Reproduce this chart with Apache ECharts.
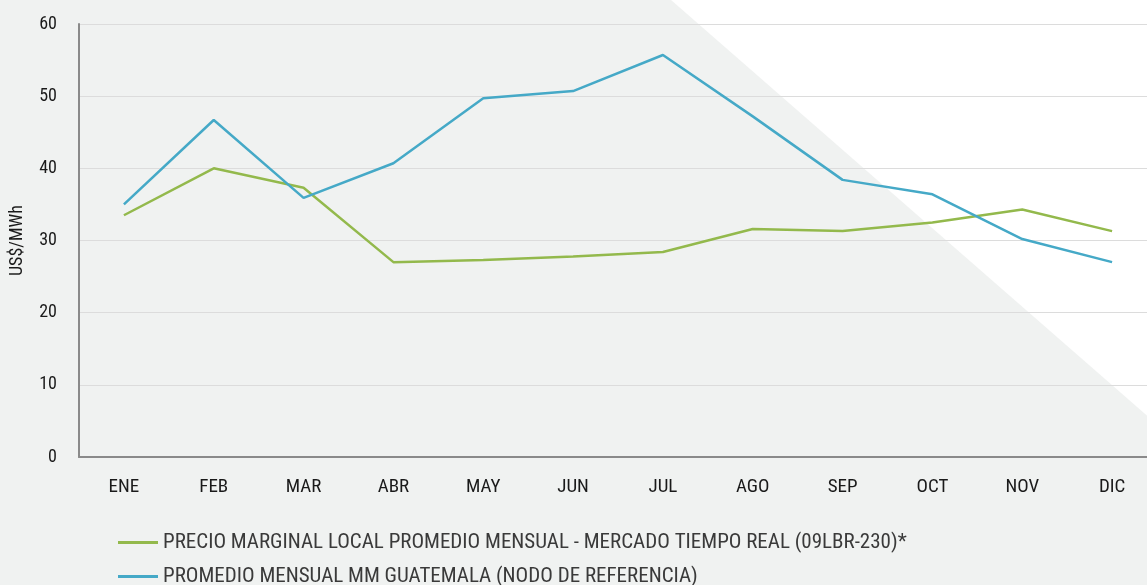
<!DOCTYPE html>
<html>
<head>
<meta charset="utf-8">
<script src="https://cdn.jsdelivr.net/npm/echarts@6/dist/echarts.min.js"></script>
<style>
  html, body { margin: 0; padding: 0; background: #f0f2f1; overflow: hidden; }
  #chart { width: 1160px; height: 585px; }
</style>
</head>
<body>
<div id="chart"></div>
<script>
// Months of the year
const months = ['ENE', 'FEB', 'MAR', 'ABR', 'MAY', 'JUN', 'JUL', 'AGO', 'SEP', 'OCT', 'NOV', 'DIC'];

// Monthly average local marginal price, real-time market (US$/MWh)
const pmlTiempoReal = [33.5, 40.0, 37.3, 27.0, 27.3, 27.8, 28.4, 31.6, 31.3, 32.5, 34.3, 31.3];

// Monthly average Guatemala MM, reference node (US$/MWh)
const mmGuatemala = [35.0, 46.7, 35.9, 40.7, 49.7, 50.7, 55.7, 47.2, 38.4, 36.4, 30.2, 27.0];

const seriesNames = [
  'PRECIO MARGINAL LOCAL PROMEDIO MENSUAL - MERCADO TIEMPO REAL (09LBR-230)*',
  'PROMEDIO MENSUAL MM GUATEMALA (NODO DE REFERENCIA)'
];

const FONT = "'Roboto Condensed', 'Liberation Sans Narrow', Roboto, sans-serif";
const GREEN = '#93b94c';
const BLUE = '#45a9c7';

const legendBase = {
  left: 113,
  itemWidth: 40,
  itemHeight: 3,
  icon: 'rect',
  textStyle: { fontFamily: FONT, fontSize: 21, color: '#3a3a3a' }
};

// The plot runs slightly past the visible right edge, so the canvas is a bit wider than the page
const chart = echarts.init(document.getElementById('chart'), null, { renderer: 'canvas' });

chart.setOption({
  backgroundColor: '#f0f2f1',
  animation: false,
  textStyle: { fontFamily: FONT },
  graphic: [
    {
      type: 'polygon',
      z: -100,
      silent: true,
      shape: { points: [[671, 0], [1160, 0], [1160, 427]] },
      style: { fill: '#ffffff' }
    }
  ],
  grid: { left: 77, right: 3, top: 24, bottom: 128, containLabel: false },
  legend: [
    Object.assign({}, legendBase, { top: 527, data: [seriesNames[0]] }),
    Object.assign({}, legendBase, { top: 561, data: [seriesNames[1]] })
  ],
  xAxis: {
    type: 'category',
    data: months,
    boundaryGap: true,
    axisLine: { lineStyle: { color: '#8a8a8a', width: 2 } },
    axisTick: { show: false },
    axisLabel: { color: '#1a1a1a', fontSize: 19, fontFamily: FONT, margin: 21 }
  },
  yAxis: {
    type: 'value',
    min: 0,
    max: 60,
    interval: 10,
    name: 'US$/MWh',
    nameLocation: 'middle',
    nameGap: 53,
    nameTextStyle: { color: '#1a1a1a', fontSize: 18, fontFamily: FONT },
    axisLine: { show: true, lineStyle: { color: '#8a8a8a', width: 2 } },
    axisTick: { show: false },
    axisLabel: { color: '#1a1a1a', fontSize: 18, fontFamily: FONT, margin: 22 },
    splitLine: { lineStyle: { color: '#dcdcdc', width: 1.2 } }
  },
  series: [
    {
      name: seriesNames[0],
      type: 'line',
      data: pmlTiempoReal,
      symbol: 'none',
      lineStyle: { color: GREEN, width: 2.5 },
      itemStyle: { color: GREEN }
    },
    {
      name: seriesNames[1],
      type: 'line',
      data: mmGuatemala,
      symbol: 'none',
      lineStyle: { color: BLUE, width: 2.5 },
      itemStyle: { color: BLUE }
    }
  ]
});
</script>
</body>
</html>
